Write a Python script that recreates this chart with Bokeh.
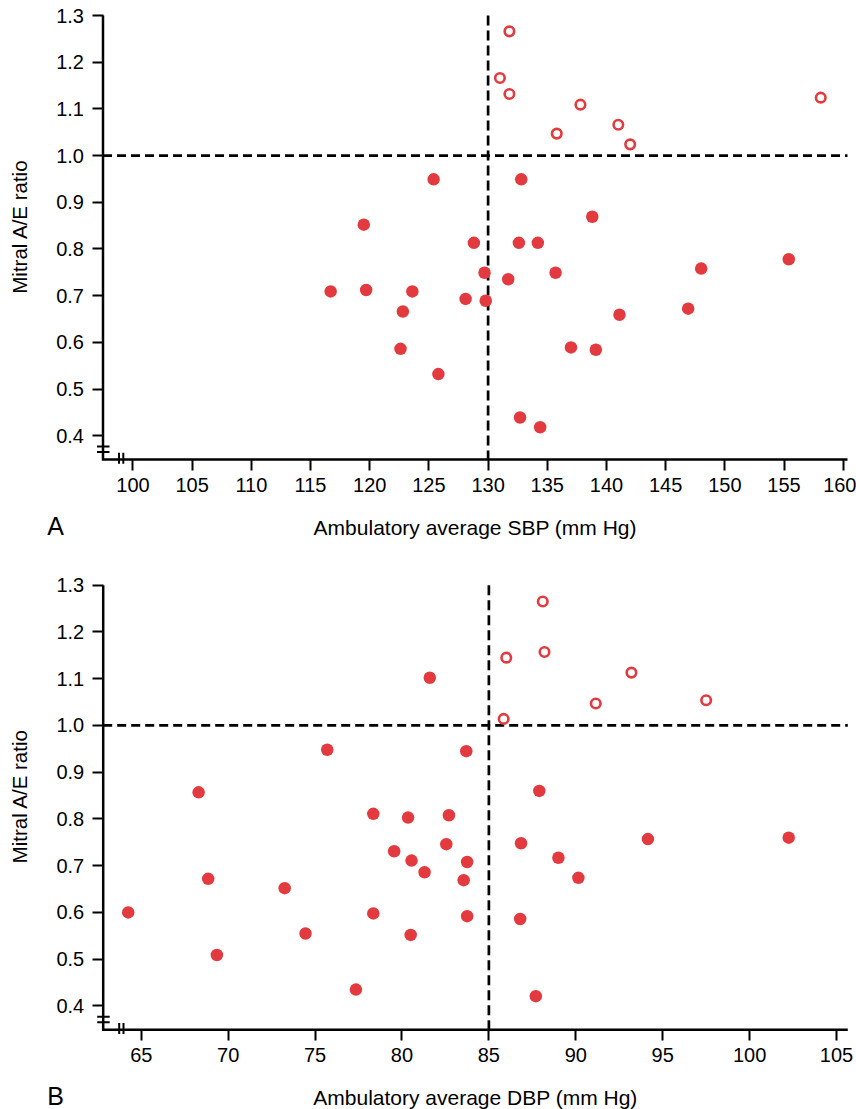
import math
from bokeh.plotting import figure
from bokeh.layouts import column
from bokeh.models import Range1d, FixedTicker, Label
from bokeh.embed import file_html
from bokeh.resources import INLINE

# ---------------- data ----------------
# Panel A: ambulatory average SBP vs mitral A/E ratio
sbp_filled = [125.4, 132.8, 138.8, 128.8, 132.6, 134.2, 155.4, 119.5, 116.7, 119.7,
              123.6, 122.8, 122.6, 125.8, 129.7, 131.7, 135.7, 148.0, 128.1, 129.8,
              146.9, 141.1, 137.0, 139.1, 132.7, 134.4]
ae_sbp_filled = [0.949, 0.949, 0.869, 0.813, 0.813, 0.813, 0.778, 0.852, 0.709, 0.712,
                 0.709, 0.666, 0.586, 0.532, 0.749, 0.735, 0.749, 0.758, 0.693, 0.689,
                 0.672, 0.659, 0.589, 0.584, 0.439, 0.418]
sbp_open = [131.8, 131.0, 131.8, 137.8, 135.8, 141.0, 142.0, 158.1]
ae_sbp_open = [1.266, 1.166, 1.132, 1.109, 1.047, 1.066, 1.024, 1.124]

# Panel B: ambulatory average DBP vs mitral A/E ratio
dbp_filled = [81.6, 83.7, 87.9, 82.7, 68.3, 75.7, 78.35, 80.35, 64.25, 68.85,
              69.35, 73.25, 74.45, 77.35, 78.35, 79.55, 80.55, 81.3, 80.5, 82.55,
              83.75, 83.55, 83.75, 86.85, 89.0, 90.15, 86.8, 87.7, 94.15, 102.25]
ae_dbp_filled = [1.102, 0.945, 0.860, 0.808, 0.857, 0.948, 0.811, 0.803, 0.600, 0.672,
                 0.509, 0.652, 0.555, 0.435, 0.598, 0.731, 0.711, 0.686, 0.552, 0.746,
                 0.708, 0.669, 0.592, 0.748, 0.717, 0.674, 0.586, 0.421, 0.757, 0.760]
dbp_open = [88.1, 86.0, 88.2, 93.2, 91.15, 97.5, 85.85]
ae_dbp_open = [1.265, 1.145, 1.157, 1.113, 1.047, 1.054, 1.014]

# axes / ticks
sbp_ticks = [100, 105, 110, 115, 120, 125, 130, 135, 140, 145, 150, 155, 160]
dbp_ticks = [65, 70, 75, 80, 85, 90, 95, 100, 105]
ae_ticks = [0.4, 0.5, 0.6, 0.7, 0.8, 0.9, 1.0, 1.1, 1.2, 1.3]
ae_tick_labels = ["0.4", "0.5", "0.6", "0.7", "0.8", "0.9", "1.0", "1.1", "1.2", "1.3"]
sbp_limits = (97.47, 160.36)
dbp_limits = (62.81, 105.65)
ae_limits = (0.349, 1.3)
sbp_cutoff = 130
dbp_cutoff = 85
ae_cutoff = 1.0

y_title = "Mitral A/E ratio"
x_title_a = "Ambulatory average SBP (mm Hg)"
x_title_b = "Ambulatory average DBP (mm Hg)"

RED = "#E23A3F"
FONT = "Liberation Sans"
W = 856


def make_panel(xs_f, ys_f, xs_o, ys_o, xr, x_ticks, x_cut, x_title, tag,
               height, ax_l, ax_r, ax_top, ax_bot):
    yr = ae_limits
    sx = (ax_r - ax_l) / (xr[1] - xr[0])
    sy = (ax_bot - ax_top) / (yr[1] - yr[0])
    full_x = (xr[0] - ax_l / sx, xr[1] + (W - ax_r) / sx)
    full_y = (yr[0] - (height - ax_bot) / sy, yr[1] + ax_top / sy)

    def px(dx):  # pixel offset from axes corner -> data x
        return xr[0] + dx / sx

    def py(dy):  # pixel offset (upwards) from axes corner -> data y
        return yr[0] + dy / sy

    p = figure(width=W, height=height, output_backend="svg", toolbar_location=None,
               x_range=Range1d(*full_x), y_range=Range1d(*full_y),
               min_border_left=0, min_border_right=0,
               min_border_top=0, min_border_bottom=0)
    p.outline_line_color = None
    p.xgrid.visible = False
    p.ygrid.visible = False
    p.background_fill_color = "white"
    p.border_fill_color = "white"

    p.xaxis.fixed_location = yr[0]
    p.yaxis.fixed_location = xr[0]
    p.xaxis.ticker = FixedTicker(ticks=x_ticks)
    p.yaxis.ticker = FixedTicker(ticks=ae_ticks)
    p.yaxis.major_label_overrides = {t: l for t, l in zip(ae_ticks, ae_tick_labels)}
    for ax in (p.xaxis, p.yaxis):
        ax.axis_line_color = None
        ax.major_tick_line_width = 2
        ax.major_tick_line_color = "black"
        ax.major_tick_out = 11
        ax.major_tick_in = 0
        ax.minor_tick_line_color = None
        ax.major_label_text_font = FONT
        ax.major_label_text_font_size = "20px"
        ax.major_label_text_color = "black"
    p.xaxis.major_label_standoff = 7
    p.yaxis.major_label_standoff = 8

    # axis lines
    p.line([xr[0], xr[0], xr[1]], [yr[1], yr[0], yr[0]], line_color="black",
           line_width=2.5, line_join="miter")

    # reference (cut-off) lines
    p.line([xr[0], xr[1]], [ae_cutoff, ae_cutoff], line_color="black",
           line_width=2.7, line_dash="9 5")
    p.line([x_cut, x_cut], [yr[1], yr[0]], line_color="black",
           line_width=2.7, line_dash="10 5")

    # data
    p.scatter(xs_f, ys_f, size=12.5, fill_color=RED, line_color=None)
    p.scatter(xs_o, ys_o, size=9.5, fill_color="white", line_color=RED, line_width=2.6)

    # axis break marks
    p.segment(x0=[px(-6), px(-6)], y0=[py(13), py(7.5)],
              x1=[px(6.5), px(6.5)], y1=[py(13), py(7.5)],
              line_color="black", line_width=2)
    p.segment(x0=[px(16), px(20.3)], y0=[py(6.7), py(6.7)],
              x1=[px(16), px(20.3)], y1=[py(-4.3), py(-4.3)],
              line_color="black", line_width=2)

    # texts
    p.add_layout(Label(x=px(-84), y=yr[1] - 211 / sy, text=y_title, angle=math.pi / 2,
                       text_font=FONT, text_font_size="20.5px", text_color="black",
                       text_align="center", text_baseline="middle"))
    p.add_layout(Label(x=px(-47.5), y=py(-66), text=tag,
                       text_font=FONT, text_font_size="25px", text_color="black",
                       text_align="center", text_baseline="alphabetic"))
    p.add_layout(Label(x=(xr[0] + xr[1]) / 2, y=py(-68), text=x_title,
                       text_font=FONT, text_font_size="21px", text_color="black",
                       text_align="center", text_baseline="middle"))
    return p


pa = make_panel(sbp_filled, ae_sbp_filled, sbp_open, ae_sbp_open,
                sbp_limits, sbp_ticks, sbp_cutoff, x_title_a, "A",
                570, 102.5, 847.0, 15.0, 459.0)
pb = make_panel(dbp_filled, ae_dbp_filled, dbp_open, ae_dbp_open,
                dbp_limits, dbp_ticks, dbp_cutoff, x_title_b, "B",
                539, 102.7, 847.3, 14.7, 459.3)

layout = column(pa, pb, spacing=0)
open("out.html", "w").write(file_html(layout, INLINE))
